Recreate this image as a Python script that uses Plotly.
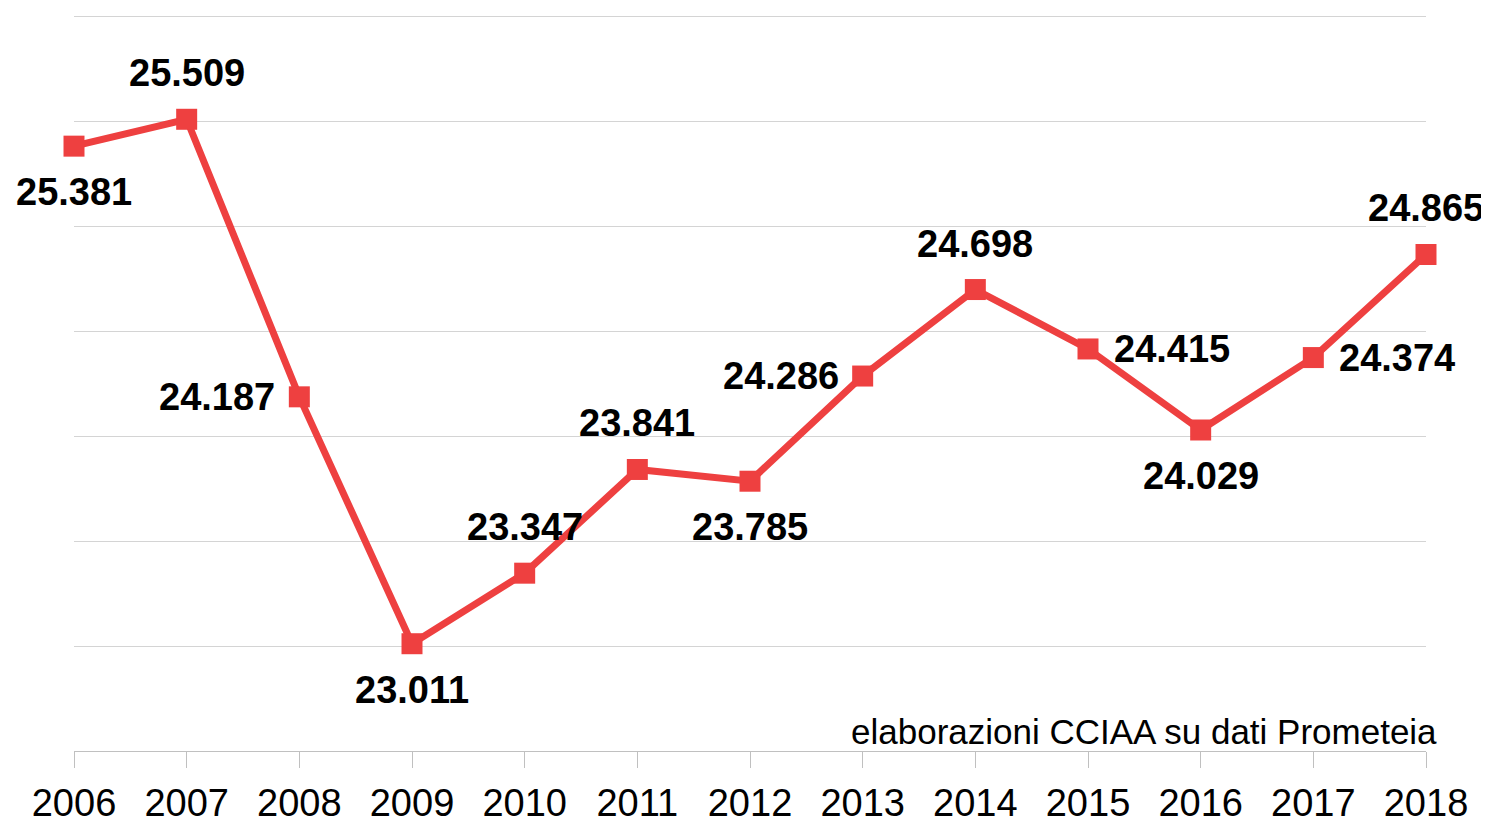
import plotly.graph_objects as go

years = [2006, 2007, 2008, 2009, 2010, 2011, 2012, 2013, 2014, 2015, 2016, 2017, 2018]
values = [25.381, 25.509, 24.187, 23.011, 23.347, 23.841, 23.785,
          24.286, 24.698, 24.415, 24.029, 24.374, 24.865]
labels = ["25.381", "25.509", "24.187", "23.011", "23.347", "23.841", "23.785",
          "24.286", "24.698", "24.415", "24.029", "24.374", "24.865"]
# where each value label sits relative to its point
label_side = ["below", "above", "left", "below", "above", "above", "below",
              "left", "above", "right", "below", "right", "above"]

red = "#ee4040"
font = "Liberation Sans, Arial, sans-serif"

fig = go.Figure()
fig.add_trace(
    go.Scatter(
        x=years,
        y=values,
        mode="lines+markers",
        line=dict(color=red, width=7),
        marker=dict(symbol="square", size=21, color=red),
        cliponaxis=False,
        hoverinfo="x+y",
    )
)

shift = {
    "above": dict(yshift=46, xshift=0, xanchor="center"),
    "below": dict(yshift=-46, xshift=0, xanchor="center"),
    "left": dict(yshift=0, xshift=-22, xanchor="right"),
    "right": dict(yshift=0, xshift=24, xanchor="left"),
}
for x, y, txt, side in zip(years, values, labels, label_side):
    fig.add_annotation(
        x=x,
        y=y,
        text=f"<b>{txt}</b>",
        showarrow=False,
        yanchor="middle",
        font=dict(family=font, size=38, color="black"),
        **shift[side],
    )

fig.add_annotation(
    x=1.0095,
    y=0.027,
    xref="paper",
    yref="paper",
    text="elaborazioni CCIAA su dati Prometeia",
    showarrow=False,
    xanchor="right",
    yanchor="middle",
    font=dict(family=font, size=35, color="black"),
)

# the page body has an 8px margin, so the figure is a bit smaller than the window
fig.update_layout(
    width=1481,
    height=811,
    margin=dict(l=66, r=63, t=4, b=68, autoexpand=False),
    paper_bgcolor="white",
    plot_bgcolor="white",
    showlegend=False,
    xaxis=dict(
        range=[2006, 2018],
        tickmode="array",
        tickvals=years,
        ticktext=[str(y) for y in years],
        ticks="outside",
        ticklen=16,
        tickcolor="#c0c0c0",
        ticklabelstandoff=2,
        showgrid=False,
        showline=True,
        linecolor="#c0c0c0",
        linewidth=1,
        zeroline=False,
        automargin=False,
        tickfont=dict(family=font, size=38, color="black"),
    ),
    yaxis=dict(
        range=[22.5, 26.02],
        tick0=22.5,
        dtick=0.5,
        showgrid=True,
        gridcolor="#d4d4d4",
        gridwidth=1,
        showticklabels=False,
        zeroline=False,
        showline=False,
        automargin=False,
    ),
)

fig.write_html("out.html")
